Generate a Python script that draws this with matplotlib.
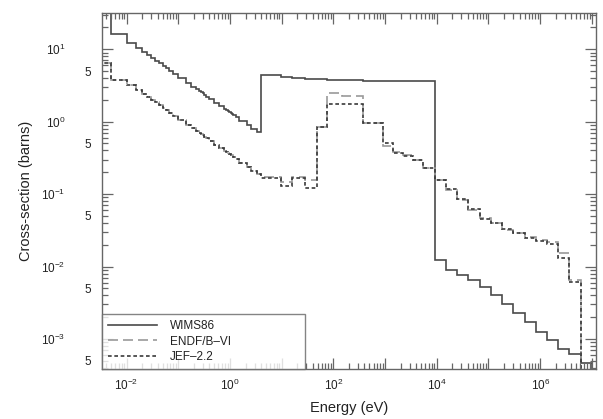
import numpy as np
import matplotlib
matplotlib.use('Agg')
import matplotlib.pyplot as plt
from matplotlib.ticker import LogLocator, FuncFormatter, NullFormatter

plt.rcParams['font.family'] = ['Liberation Sans', 'DejaVu Sans']
plt.rcParams['mathtext.default'] = 'regular'

# WIMS 69-group energy boundaries (eV), ascending (lowest edge 0 shown as 1e-3)
group_edges_eV = [1e-3, 0.005, 0.01, 0.015, 0.02, 0.025, 0.03, 0.035, 0.042, 0.05,
                  0.058, 0.067, 0.08, 0.1, 0.14, 0.18, 0.22, 0.25, 0.28, 0.3,
                  0.32, 0.35, 0.4, 0.5, 0.625, 0.78, 0.85, 0.91, 0.95, 0.972,
                  0.996, 1.02, 1.045, 1.071, 1.097, 1.123, 1.15, 1.3, 1.5, 2.1,
                  2.6, 3.3, 4.0, 9.877, 15.968, 27.7, 48.052, 75.5014, 148.728, 367.262,
                  906.898, 1425.1, 2239.45, 3519.1, 5530.0, 9118.0, 15030.0, 24780.0, 40850.0, 67340.0,
                  111000.0, 183000.0, 302500.0, 500000.0, 821000.0, 1353000.0, 2231000.0, 3679000.0, 6065500.0, 10000000.0]

wims86 = [40.0, 16.2, 12.3, 10.3, 9.10, 8.22, 7.56, 6.95, 6.36, 5.86,
          5.45, 5.03, 4.55, 3.96, 3.42, 3.05, 2.81, 2.65, 2.53, 2.45,
          2.35, 2.22, 2.04, 1.82, 1.63, 1.51, 1.45, 1.41, 1.39, 1.37,
          1.36, 1.34, 1.32, 1.31, 1.29, 1.28, 1.23, 1.15, 1.02, 0.890,
          0.795, 0.725, 4.41, 4.17, 3.97, 3.88, 3.85, 3.77, 3.72, 3.70,
          3.62, 3.62, 3.62, 3.62, 3.62, 0.0124, 0.0090, 0.0077, 0.0066, 0.0053,
          0.0041, 0.0030, 0.0023, 0.00173, 0.00126, 0.00098, 0.00072, 0.00062, 0.00047]

endf_b6 = [6.4, 3.8, 3.25, 2.74, 2.41, 2.18, 2.00, 1.84, 1.68, 1.55,
           1.44, 1.33, 1.20, 1.05, 0.904, 0.807, 0.743, 0.700, 0.669, 0.647,
           0.622, 0.589, 0.538, 0.481, 0.431, 0.399, 0.384, 0.373, 0.367, 0.363,
           0.359, 0.354, 0.350, 0.346, 0.342, 0.338, 0.326, 0.305, 0.270, 0.236,
           0.210, 0.189, 0.175, 0.149, 0.175, 0.157, 0.853, 2.46, 2.25, 0.97,
           0.467, 0.376, 0.347, 0.300, 0.227, 0.157, 0.114, 0.083, 0.0605, 0.047,
           0.040, 0.032, 0.029, 0.0257, 0.0233, 0.0219, 0.0154, 0.0066, 1e-4]

jef22 = [6.4, 3.8, 3.25, 2.74, 2.41, 2.18, 2.00, 1.84, 1.68, 1.55,
         1.44, 1.33, 1.20, 1.05, 0.904, 0.807, 0.743, 0.700, 0.669, 0.647,
         0.622, 0.589, 0.538, 0.481, 0.431, 0.399, 0.384, 0.373, 0.367, 0.363,
         0.359, 0.354, 0.350, 0.346, 0.342, 0.338, 0.326, 0.305, 0.270, 0.236,
         0.210, 0.189, 0.166, 0.130, 0.167, 0.121, 0.853, 1.75, 1.78, 0.97,
         0.500, 0.370, 0.340, 0.300, 0.230, 0.157, 0.118, 0.085, 0.062, 0.045,
         0.040, 0.033, 0.029, 0.0250, 0.0225, 0.0205, 0.0132, 0.0062, 1e-4]

series_labels = ['WIMS86', 'ENDF/B–VI', 'JEF–2.2']
x_label = 'Energy (eV)'
y_label = 'Cross-section (barns)'

fig = plt.figure(figsize=(6.03, 4.19), dpi=100)
ax = fig.add_axes([0.1687, 0.1193, 0.8197, 0.849])

styles = [dict(color='#4a4a4a', linestyle='-', lw=1.2),
          dict(color='#9a9a9a', linestyle=(0, (6, 3)), lw=1.2),
          dict(color='#3a3a3a', linestyle=(0, (2.2, 1.6)), lw=1.2)]
handles = []
for vals, lab, st in zip([wims86, endf_b6, jef22], series_labels, styles):
    ax.stairs(vals, group_edges_eV, baseline=1e-6, fill=False, **st)
    h, = ax.plot([], [], label=lab, **st)
    handles.append(h)

ax.set_xscale('log')
ax.set_yscale('log')
ax.set_xlim(10 ** -2.48, 10 ** 7.08)
ax.set_ylim(10 ** -3.414, 10 ** 1.496)

ax.xaxis.set_major_locator(LogLocator(base=10, numticks=30))
ax.xaxis.set_minor_locator(LogLocator(base=10, subs=np.arange(2, 10), numticks=30))
ax.yaxis.set_major_locator(LogLocator(base=10, numticks=30))
ax.yaxis.set_minor_locator(LogLocator(base=10, subs=np.arange(2, 10), numticks=30))

def xfmt(v, pos):
    e = int(round(np.log10(v)))
    return f'$10^{{{e}}}$' if e % 2 == 0 else ''

def yfmt(v, pos):
    e = int(round(np.log10(v)))
    return f'$10^{{{e}}}$'

def yminfmt(v, pos):
    m = v / 10 ** np.floor(np.log10(v) + 1e-9)
    return '5' if abs(m - 5) < 0.01 else ''

ax.xaxis.set_major_formatter(FuncFormatter(xfmt))
ax.xaxis.set_minor_formatter(NullFormatter())
ax.yaxis.set_major_formatter(FuncFormatter(yfmt))
ax.yaxis.set_minor_formatter(FuncFormatter(yminfmt))

ax.tick_params(which='both', direction='in', top=True, right=True,
               color='#666666', labelcolor='#222222', labelsize=8.5, width=0.9)
ax.tick_params(which='major', length=8)
ax.tick_params(which='minor', length=4)
ax.tick_params(axis='y', which='major', pad=26)
ax.tick_params(axis='y', which='minor', pad=8)
ax.tick_params(axis='x', which='major', pad=6)

for sp in ax.spines.values():
    sp.set_color('#666666')
    sp.set_linewidth(1.0)

ax.set_xlabel(x_label, fontsize=10.5, color='#222222', labelpad=6)
ax.set_ylabel(y_label, fontsize=10.5, color='#222222', labelpad=6)

leg = ax.legend(handles=handles, loc='lower left', bbox_to_anchor=(0, 0, 0.412, 0.16),
                mode='expand', borderaxespad=0, fancybox=False, frameon=True,
                fontsize=8.5, handlelength=4.2, handletextpad=1.1, labelspacing=0.3,
                borderpad=0.5)
leg.get_frame().set_edgecolor('#666666')
leg.get_frame().set_linewidth(1.0)
for t in leg.get_texts():
    t.set_color('#222222')

fig.savefig('out.png', dpi=100)
